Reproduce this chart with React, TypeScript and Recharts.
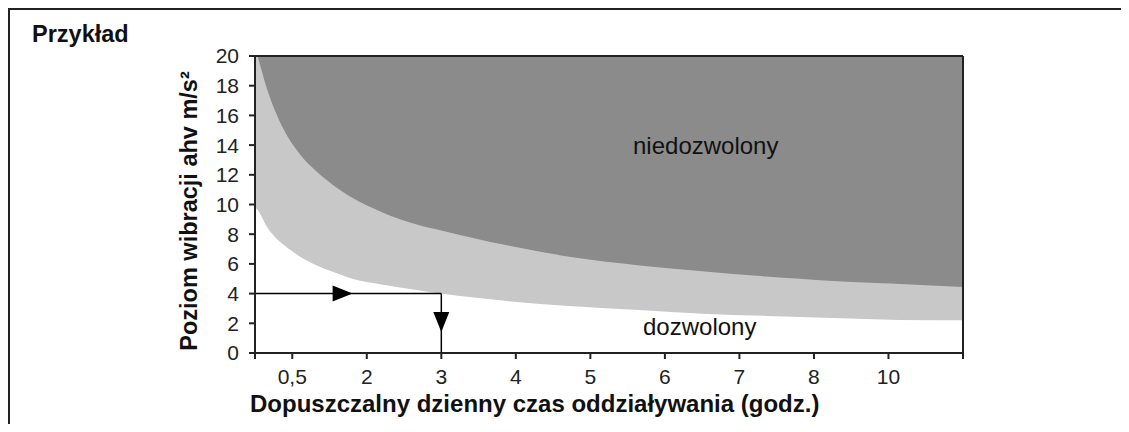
import {
  ComposedChart,
  Area,
  XAxis,
  YAxis,
  CartesianGrid,
  ReferenceLine,
  ReferenceDot,
} from 'recharts'

// ── Data ─────────────────────────────────────────────────────────────────────
// x is the position on the (non-linear) hour axis, ticks sit at 1..9
const POSITIONS   = [0.5, 0.54, 0.66, 0.77, 0.88, 1.1, 1.33, 1.55, 1.77, 2.22, 2.67, 3.0, 3.88, 4.76, 5.66, 6.5, 7.36, 7.81, 8.25, 8.92, 9.15, 10.0]
const UPPER_LIMIT = [20.6, 19.9, 17.8, 16.3, 15.1, 13.4, 12.2, 11.3, 10.55, 9.45, 8.65, 8.25, 7.25, 6.45, 5.9, 5.5, 5.15, 5.0, 4.85, 4.7, 4.65, 4.45]
const LOWER_LIMIT = [9.8, 9.6, 8.5, 7.8, 7.3, 6.5, 5.9, 5.45, 5.05, 4.6, 4.25, 4.0, 3.5, 3.15, 2.9, 2.65, 2.5, 2.42, 2.35, 2.25, 2.22, 2.2]

const X_TICKS  = [0.5, 1, 2, 3, 4, 5, 6, 7, 8, 9, 10]
const X_LABELS = ['', '0,5', '2', '3', '4', '5', '6', '7', '8', '10', '']
const Y_TICKS  = [0, 2, 4, 6, 8, 10, 12, 14, 16, 18, 20]

// example: 4 m/s² → 3 hours
const EXAMPLE_LEVEL = 4
const EXAMPLE_HOURS = 3
const ARROW_RIGHT_AT = 1.81
const ARROW_DOWN_AT = 1.41

const data = POSITIONS.map((x, i) => ({ x, upper: UPPER_LIMIT[i], lower: LOWER_LIMIT[i] }))

// ─────────────────────────────────────────────────────────────────────────────

const FONT = '"Liberation Sans", Arial, Helvetica, sans-serif'
const DARK = '#8b8b8b'
const LIGHT = '#c8c8c8'
const AXIS = '#222'

const tick = { fill: '#222', fontSize: 21, fontFamily: FONT }

const ArrowRight = (p: any) => (
  <polygon points={`${p.cx},${p.cy} ${p.cx - 20},${p.cy - 8} ${p.cx - 20},${p.cy + 8}`} fill="#000" />
)
const ArrowDown = (p: any) => (
  <polygon points={`${p.cx},${p.cy} ${p.cx - 8},${p.cy - 20} ${p.cx + 8},${p.cy - 20}`} fill="#000" />
)

export default function App() {
  return (
    <div
      style={{
        position: 'relative',
        width: 1121,
        height: 416,
        borderTop: '2px solid #222',
        borderLeft: '2px solid #222',
        boxSizing: 'border-box',
        fontFamily: FONT,
      }}
    >
      <div style={{ position: 'absolute', left: 22, top: 11, fontSize: 23.5, fontWeight: 'bold', color: '#111' }}>
        Przykład
      </div>

      <div style={{ position: 'absolute', left: 0, top: 0 }}>
        <ComposedChart
          width={1113}
          height={414}
          data={data}
          margin={{ top: 46, right: 160, left: 183, bottom: 41 }}
        >
          <CartesianGrid fill={DARK} horizontal={false} vertical={false} />
          <XAxis
            dataKey="x"
            type="number"
            domain={[0.5, 10]}
            ticks={X_TICKS}
            interval={0}
            tickFormatter={(v: number) => X_LABELS[X_TICKS.indexOf(v)] ?? ''}
            tick={tick}
            tickSize={6}
            tickMargin={10}
            stroke={AXIS}
            strokeWidth={2}
            height={30}
            allowDataOverflow
          />
          <YAxis
            type="number"
            domain={[0, 20]}
            ticks={Y_TICKS}
            interval={0}
            tick={tick}
            tickSize={6}
            tickMargin={10}
            stroke={AXIS}
            strokeWidth={2}
            width={62}
            allowDataOverflow
          />
          <Area
            type="monotone"
            dataKey="upper"
            stroke="none"
            fill={LIGHT}
            fillOpacity={1}
            isAnimationActive={false}
            baseValue={0}
          />
          <Area
            type="monotone"
            dataKey="lower"
            stroke="none"
            fill="#ffffff"
            fillOpacity={1}
            isAnimationActive={false}
            baseValue={0}
          />
          <ReferenceLine y={20} stroke={AXIS} strokeWidth={2} />
          <ReferenceLine x={10} stroke={AXIS} strokeWidth={2} />
          <ReferenceLine
            segment={[{ x: 0.5, y: EXAMPLE_LEVEL }, { x: EXAMPLE_HOURS, y: EXAMPLE_LEVEL }]}
            stroke="#000"
            strokeWidth={1.5}
          />
          <ReferenceLine
            segment={[{ x: EXAMPLE_HOURS, y: EXAMPLE_LEVEL }, { x: EXAMPLE_HOURS, y: 0 }]}
            stroke="#000"
            strokeWidth={1.5}
          />
          <ReferenceDot x={ARROW_RIGHT_AT} y={EXAMPLE_LEVEL} r={8} shape={ArrowRight} />
          <ReferenceDot x={EXAMPLE_HOURS} y={ARROW_DOWN_AT} r={8} shape={ArrowDown} />
        </ComposedChart>
      </div>

      <div style={{ position: 'absolute', left: 623, top: 122, fontSize: 24, color: '#111' }}>niedozwolony</div>
      <div style={{ position: 'absolute', left: 633, top: 303, fontSize: 24, color: '#111' }}>dozwolony</div>

      <div
        style={{
          position: 'absolute',
          left: 240,
          top: 380,
          fontSize: 24,
          fontWeight: 'bold',
          color: '#111',
          whiteSpace: 'nowrap',
        }}
      >
        Dopuszczalny dzienny czas oddziaływania (godz.)
      </div>
      <div
        style={{
          position: 'absolute',
          left: 179,
          top: 201,
          fontSize: 23.5,
          fontWeight: 'bold',
          color: '#111',
          whiteSpace: 'nowrap',
          transform: 'translate(-50%, -50%) rotate(-90deg)',
        }}
      >
        Poziom wibracji ahv m/s²
      </div>
    </div>
  )
}
